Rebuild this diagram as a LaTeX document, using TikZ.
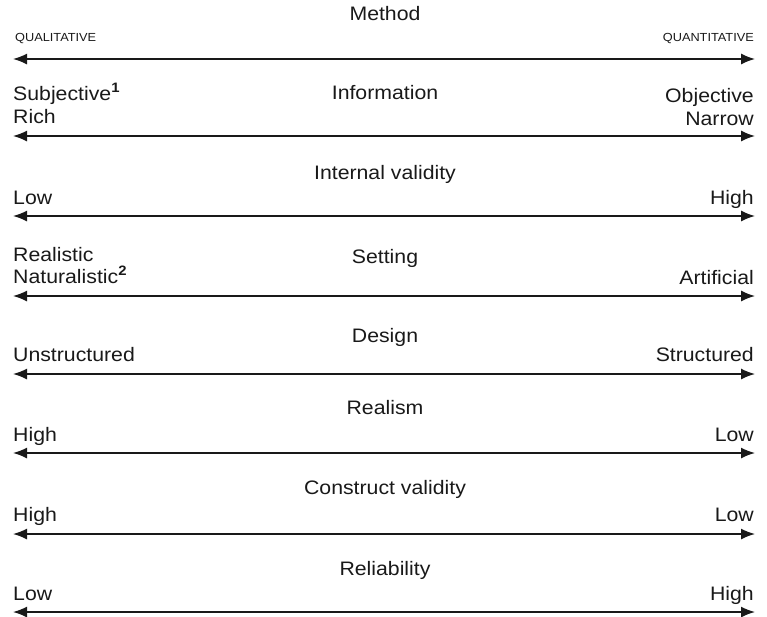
\documentclass[tikz,border=0pt]{standalone}
\usepackage{fontspec}
\setmainfont{Liberation Sans}[FakeStretch=1.09]
\usetikzlibrary{arrows.meta}

\definecolor{ink}{gray}{0.1}

\tikzset{
  dimline/.style={draw=ink, line width=1.5pt, {Latex[length=14pt,width=11pt]}-{Latex[length=14pt,width=11pt]}},
  dimtext/.style={text=ink, font=\fontsize{19.5}{23}\selectfont, inner sep=0pt},
  lefttext/.style={dimtext, anchor=base west},
  righttext/.style={dimtext, anchor=base east},
  midtext/.style={dimtext, anchor=base},
  captext/.style={text=ink, font=\fontsize{11.7}{13}\selectfont, inner sep=0pt},
}
\newcommand{\fnmark}[1]{\textsuperscript{\textbf{#1}}}

\begin{document}
\begin{tikzpicture}[x=1pt,y=-1pt]
        \useasboundingbox (0,0) rectangle (767,616);

        % method
        \node[midtext] (method) at (385,20) {Method};
        \node[captext, anchor=base west] (qual) at (15,41) {QUALITATIVE};
        \node[captext, anchor=base east] (quan) at (754,41) {QUANTITATIVE};
        \coordinate (method-l) at (13,59);
        \coordinate (method-r) at (755,59);
        \draw[dimline] (method-l) -- (method-r);

        % information
        \node[midtext] (info) at (385,99) {Information};
        \node[lefttext] (subj) at (13,100) {Subjective\fnmark{1}};
        \node[lefttext] (rich) at (13,123) {Rich};
        \node[righttext] (obj) at (754,102) {Objective};
        \node[righttext] (narrow) at (754,125) {Narrow};
        \coordinate (info-l) at (13,136);
        \coordinate (info-r) at (755,136);
        \draw[dimline] (info-l) -- (info-r);

        % internal validity
        \node[midtext] (intval) at (385,179) {Internal validity};
        \node[lefttext] (intval-lo) at (13,204) {Low};
        \node[righttext] (intval-hi) at (754,204) {High};
        \coordinate (intval-l) at (13,216);
        \coordinate (intval-r) at (755,216);
        \draw[dimline] (intval-l) -- (intval-r);

        % setting
        \node[midtext] (setting) at (385,263) {Setting};
        \node[lefttext] (realistic) at (13,261) {Realistic};
        \node[lefttext] (natural) at (13,283) {Naturalistic\fnmark{2}};
        \node[righttext] (artif) at (754,284) {Artificial};
        \coordinate (setting-l) at (13,296);
        \coordinate (setting-r) at (755,296);
        \draw[dimline] (setting-l) -- (setting-r);

        % design
        \node[midtext] (design) at (385,342) {Design};
        \node[lefttext] (unstruct) at (13,361) {Unstructured};
        \node[righttext] (struct) at (754,361) {Structured};
        \coordinate (design-l) at (13,374);
        \coordinate (design-r) at (755,374);
        \draw[dimline] (design-l) -- (design-r);

        % realism
        \node[midtext] (realism) at (385,414) {Realism};
        \node[lefttext] (realism-hi) at (13,441) {High};
        \node[righttext] (realism-lo) at (754,441) {Low};
        \coordinate (realism-l) at (13,453);
        \coordinate (realism-r) at (755,453);
        \draw[dimline] (realism-l) -- (realism-r);

        % construct validity
        \node[midtext] (conval) at (385,494) {Construct validity};
        \node[lefttext] (conval-hi) at (13,521) {High};
        \node[righttext] (conval-lo) at (754,521) {Low};
        \coordinate (conval-l) at (13,534);
        \coordinate (conval-r) at (755,534);
        \draw[dimline] (conval-l) -- (conval-r);

        % reliability
        \node[midtext] (reliab) at (385,575) {Reliability};
        \node[lefttext] (reliab-lo) at (13,600) {Low};
        \node[righttext] (reliab-hi) at (754,600) {High};
        \coordinate (reliab-l) at (13,612);
        \coordinate (reliab-r) at (755,612);
        \draw[dimline] (reliab-l) -- (reliab-r);
\end{tikzpicture}
\end{document}
